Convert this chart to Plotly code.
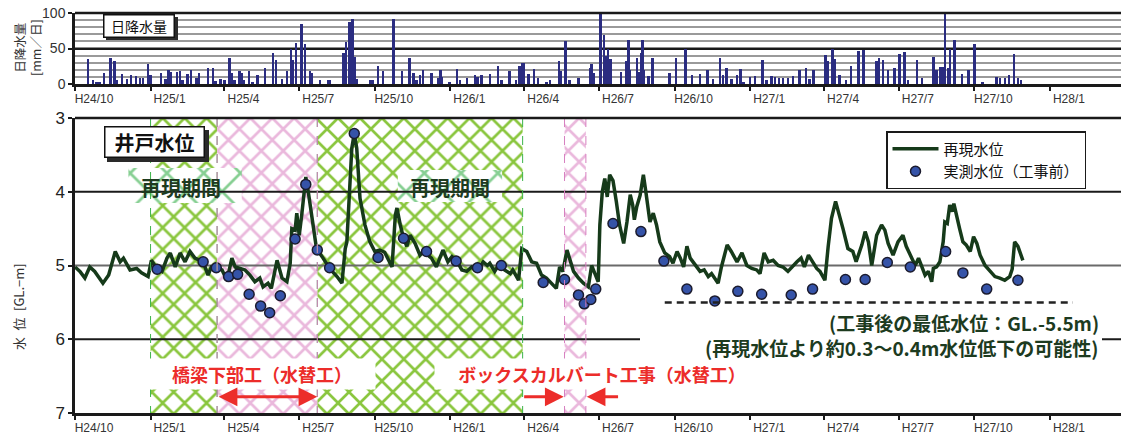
import pandas as pd
import plotly.graph_objects as go

# ---------------- data ----------------
# daily rainfall: day number counted from 2012-10-01, value in mm/day
RAIN_START = "2012-10-01"
rain_day = [16, 22, 26, 30, 35, 43, 48, 51, 57, 63, 68, 74, 79, 83, 89, 92, 105, 110, 114, 116,
            124, 128, 131, 137, 141, 148, 151, 162, 168, 171, 177, 182, 188, 191, 194, 200, 203, 206,
            212, 216, 222, 231, 241, 245, 252, 258, 263, 265, 269, 276, 280, 286, 288, 298, 308, 310,
            327, 330, 334, 338, 341, 343, 359, 362, 369, 375, 388, 398, 407, 412, 416, 420, 424, 434,
            442, 445, 447, 456, 465, 469, 477, 487, 490, 495, 505, 515, 519, 529, 537, 541, 544, 546,
            552, 559, 564, 574, 578, 589, 592, 597, 602, 613, 627, 629, 631, 640, 644, 646, 649, 652,
            665, 671, 674, 676, 684, 686, 689, 691, 693, 698, 703, 724, 732, 743, 751, 761, 770, 777,
            785, 789, 793, 799, 806, 810, 814, 822, 828, 837, 842, 848, 852, 857, 862, 868, 874, 882,
            890, 894, 899, 914, 917, 922, 925, 931, 939, 945, 954, 960, 976, 979, 984, 990, 998, 1004,
            1010, 1014, 1025, 1031, 1045, 1049, 1053, 1056, 1059, 1063, 1065, 1071, 1080, 1088, 1095,
            1105, 1122, 1126, 1132, 1137, 1143, 1148, 1152]
rain_mm = [35, 6, 3, 3, 16, 36, 32, 6, 14, 7, 13, 11, 9, 8, 28, 13, 16, 7, 20, 17,
           17, 19, 6, 14, 20, 8, 16, 22, 22, 4, 7, 6, 36, 16, 5, 19, 16, 6,
           19, 3, 13, 22, 43, 34, 7, 19, 49, 34, 58, 84, 56, 19, 15, 6, 5, 6,
           44, 59, 88, 92, 38, 7, 5, 6, 26, 19, 91, 19, 37, 16, 6, 13, 20, 16,
           9, 20, 10, 3, 21, 6, 9, 13, 10, 13, 14, 26, 6, 19, 6, 26, 29, 30,
           14, 21, 8, 3, 6, 33, 19, 61, 6, 9, 22, 28, 15, 100, 69, 40, 50, 35,
           17, 32, 62, 20, 37, 17, 44, 62, 20, 11, 36, 16, 36, 49, 13, 14, 20, 7,
           36, 13, 22, 7, 13, 21, 3, 10, 11, 34, 6, 11, 10, 8, 8, 8, 11, 20,
           22, 7, 20, 41, 32, 50, 35, 13, 6, 26, 46, 48, 32, 36, 34, 20, 22, 42,
           45, 6, 34, 8, 38, 20, 24, 24, 100, 22, 49, 62, 14, 20, 57,
           3, 10, 9, 8, 13, 42, 8, 5]

# simulated groundwater level (GL.-m)
sim_date = ["2012-10-01", "2012-10-07", "2012-10-13", "2012-10-19", "2012-10-25", "2012-11-04",
            "2012-11-11", "2012-11-15", "2012-11-19", "2012-11-25", "2012-11-29", "2012-12-07",
            "2012-12-15", "2012-12-21", "2012-12-29", "2013-01-02", "2013-01-08", "2013-01-15",
            "2013-01-21", "2013-01-25", "2013-01-31", "2013-02-06", "2013-02-12", "2013-02-18",
            "2013-02-24", "2013-03-06", "2013-03-12", "2013-03-16", "2013-03-22", "2013-03-29",
            "2013-04-04", "2013-04-10", "2013-04-14", "2013-04-20", "2013-04-26", "2013-05-02",
            "2013-05-08", "2013-05-14", "2013-05-18", "2013-05-24", "2013-05-28", "2013-06-04",
            "2013-06-10", "2013-06-16", "2013-06-20", "2013-06-22", "2013-06-26", "2013-06-28",
            "2013-07-01", "2013-07-04", "2013-07-06", "2013-07-09", "2013-07-12", "2013-07-18",
            "2013-07-22", "2013-07-30", "2013-08-07", "2013-08-16", "2013-08-22", "2013-08-26",
            "2013-08-28", "2013-09-03", "2013-09-06", "2013-09-09", "2013-09-13", "2013-09-19",
            "2013-09-25", "2013-10-01", "2013-10-07", "2013-10-13", "2013-10-22", "2013-10-26",
            "2013-10-28", "2013-11-01", "2013-11-05", "2013-11-09", "2013-11-13", "2013-11-19",
            "2013-11-25", "2013-11-29", "2013-12-09", "2013-12-15", "2013-12-23", "2013-12-29",
            "2014-01-03", "2014-01-09", "2014-01-15", "2014-01-21", "2014-01-27", "2014-02-01",
            "2014-02-06", "2014-02-10", "2014-02-15", "2014-02-18", "2014-02-24", "2014-03-02",
            "2014-03-08", "2014-03-15", "2014-03-18", "2014-03-25", "2014-03-29", "2014-04-04",
            "2014-04-10", "2014-04-16", "2014-04-22", "2014-04-28", "2014-05-04", "2014-05-10",
            "2014-05-14", "2014-05-18", "2014-05-23", "2014-05-27", "2014-05-31", "2014-06-06",
            "2014-06-12", "2014-06-18", "2014-06-22", "2014-06-26", "2014-06-30", "2014-07-02",
            "2014-07-05", "2014-07-08", "2014-07-11", "2014-07-14", "2014-07-18", "2014-07-22",
            "2014-07-26", "2014-07-31", "2014-08-04", "2014-08-08", "2014-08-11", "2014-08-13",
            "2014-08-16", "2014-08-20", "2014-08-24", "2014-08-27", "2014-09-01", "2014-09-05",
            "2014-09-09", "2014-09-13", "2014-09-19", "2014-09-25", "2014-09-29", "2014-10-04",
            "2014-10-08", "2014-10-12", "2014-10-16", "2014-10-20", "2014-10-26", "2014-11-01",
            "2014-11-06", "2014-11-11", "2014-11-15", "2014-11-23", "2014-11-27", "2014-12-04",
            "2014-12-09", "2014-12-16", "2014-12-22", "2014-12-28", "2015-01-03", "2015-01-09",
            "2015-01-13", "2015-01-18", "2015-01-23", "2015-01-29", "2015-02-04", "2015-02-10",
            "2015-02-16", "2015-02-22", "2015-02-27", "2015-03-04", "2015-03-08", "2015-03-13",
            "2015-03-18", "2015-03-23", "2015-03-27", "2015-04-02", "2015-04-06", "2015-04-10",
            "2015-04-15", "2015-04-18", "2015-04-24", "2015-04-30", "2015-05-06", "2015-05-10",
            "2015-05-17", "2015-05-21", "2015-05-25", "2015-05-29", "2015-06-04", "2015-06-10",
            "2015-06-14", "2015-06-18", "2015-06-24", "2015-06-30", "2015-07-06", "2015-07-10",
            "2015-07-15", "2015-07-21", "2015-07-25", "2015-07-29", "2015-08-02", "2015-08-06",
            "2015-08-10", "2015-08-12", "2015-08-16", "2015-08-20", "2015-08-24", "2015-08-26",
            "2015-08-29", "2015-09-01", "2015-09-04", "2015-09-06", "2015-09-09", "2015-09-13",
            "2015-09-17", "2015-09-21", "2015-09-26", "2015-09-30", "2015-10-04", "2015-10-08",
            "2015-10-14", "2015-10-20", "2015-10-26", "2015-11-01", "2015-11-07", "2015-11-13",
            "2015-11-16", "2015-11-19", "2015-11-23", "2015-11-29"]
sim_level = [5.02, 5.08, 5.17, 5.02, 5.08, 5.24,
             5.13, 4.97, 4.81, 4.95, 4.90, 5.06,
             5.04, 5.10, 5.15, 4.93, 5.03, 5.08,
             4.90, 4.83, 5.02, 4.83, 4.95, 4.81,
             4.90, 4.95, 5.13, 5.02, 5.03, 5.06,
             5.20, 4.90, 5.02, 5.04, 5.06, 5.13,
             5.22, 5.17, 5.29, 5.24, 5.31, 4.93,
             5.17, 5.22, 4.97, 4.50, 4.52, 4.29,
             4.59, 4.32, 4.09, 3.80, 4.00, 4.45,
             4.77, 4.90, 5.04, 5.15, 5.24, 4.77,
             4.68, 3.41, 3.21, 3.41, 4.09, 4.45,
             4.68, 4.81, 4.79, 4.82, 5.02, 4.32,
             4.22, 4.45, 4.63, 4.74, 4.59, 4.70,
             4.86, 4.81, 4.90, 5.02, 4.79, 4.95,
             4.88, 4.94, 5.06, 5.08, 5.02, 5.06,
             5.02, 4.95, 5.00, 4.97, 5.08, 4.97,
             5.06, 5.11, 5.06, 5.20, 4.77, 4.81,
             4.95, 4.97, 5.13, 5.17, 5.24, 5.31,
             5.02, 5.08, 4.79, 4.95, 5.08, 5.17,
             5.24, 5.29, 5.00, 5.11, 5.22, 4.45,
             4.00, 3.82, 4.07, 3.77, 3.85, 4.13,
             4.45, 4.70, 4.41, 4.04, 4.18, 4.38,
             4.20, 4.05, 3.77, 4.00, 4.41, 4.29,
             4.45, 4.68, 4.83, 4.88, 4.97, 4.81,
             4.90, 5.02, 4.74, 4.90, 5.00, 5.08,
             5.06, 5.15, 5.11, 5.24, 5.02, 4.72,
             4.81, 4.95, 4.83, 5.00, 5.04, 5.06,
             5.11, 4.83, 4.95, 4.93, 5.00, 5.02,
             5.08, 5.00, 4.95, 4.90, 5.02, 4.86,
             4.95, 5.04, 5.08, 5.20, 4.74, 4.36,
             4.13, 4.27, 4.50, 4.77, 4.81, 4.95,
             4.72, 4.54, 4.68, 5.00, 4.59, 4.45,
             4.52, 4.70, 4.86, 4.68, 4.59, 4.74,
             4.86, 5.00, 4.90, 5.02, 5.13, 5.08,
             5.22, 5.04, 5.02, 4.95, 4.68, 4.41,
             4.43, 4.18, 4.27, 4.16, 4.32, 4.50,
             4.68, 4.72, 4.81, 4.61, 4.70, 4.86,
             5.00, 5.08, 5.15, 5.17, 5.20, 5.15,
             5.05, 4.68, 4.74, 4.93]

# measured groundwater level before construction (GL.-m)
obs_date = ["2013-01-09", "2013-03-06", "2013-03-22", "2013-04-06", "2013-04-17", "2013-05-01",
            "2013-05-15", "2013-05-26", "2013-06-08", "2013-06-26", "2013-07-09", "2013-07-23",
            "2013-08-07", "2013-09-06", "2013-10-05", "2013-11-05", "2013-12-03", "2014-01-08",
            "2014-02-03", "2014-03-04", "2014-04-24", "2014-05-20", "2014-06-06", "2014-06-13",
            "2014-06-21", "2014-06-27", "2014-07-18", "2014-08-21", "2014-09-18", "2014-10-16",
            "2014-11-19", "2014-12-17", "2015-01-15", "2015-02-20", "2015-03-18", "2015-04-27",
            "2015-05-21", "2015-06-17", "2015-07-15", "2015-08-27", "2015-09-17", "2015-10-16",
            "2015-11-23"]
obs_level = [5.05, 4.95, 5.03, 5.15, 5.12, 5.39,
             5.55, 5.64, 5.41, 4.64, 3.90, 4.79,
             5.03, 3.21, 4.89, 4.63, 4.81, 4.94,
             5.03, 5.00, 5.23, 5.19, 5.40, 5.52,
             5.46, 5.32, 4.43, 4.54, 4.94, 5.32,
             5.48, 5.35, 5.39, 5.40, 5.32, 5.19,
             5.19, 4.96, 5.02, 4.81, 5.10, 5.32,
             5.20]

# periods
repro_periods = [("2013-01-01", "2013-03-23"), ("2013-07-23", "2014-03-30")]
works_periods = [("2013-03-23", "2013-07-23"), ("2014-05-20", "2014-06-15")]
post_min_level = 5.5
post_min_span = ("2014-09-19", "2016-01-29")

tick_dates = ["2012-10-01", "2013-01-01", "2013-04-01", "2013-07-01", "2013-10-01", "2014-01-01",
              "2014-04-01", "2014-07-01", "2014-10-01", "2015-01-01", "2015-04-01", "2015-07-01",
              "2015-10-01", "2016-01-01"]
tick_text = ["H24/10", "H25/1", "H25/4", "H25/7", "H25/10", "H26/1", "H26/4", "H26/7",
             "H26/10", "H27/1", "H27/4", "H27/7", "H27/10", "H28/1"]

# ---------------- layout helpers ----------------
W, H = 1121, 437
ML, MR, MT, MB = 75, 0, 13, 24


def px(x):
    return (x - ML) / (W - ML - MR)


def py(y):
    return (H - MB - y) / (H - MT - MB)


X_RANGE = ["2012-10-01", "2016-03-27 12:00"]
JP = "Noto Sans CJK JP"
LAT = "Liberation Sans, Arial"
GREEN_H = "#8ac63e"
PINK_H = "#eab8dc"
LINE_C = "#163a1a"
NOTE_C = "#1d3b1f"
RED = "#ec2d2a"

fig = go.Figure()


def hatch(x0, x1, y0, y1, color, size, solidity, bg="rgba(0,0,0,0)"):
    fig.add_trace(go.Scatter(
        x=[x0, x1, x1, x0, x0], y=[y0, y0, y1, y1, y0],
        mode="lines", line=dict(width=0), fill="toself",
        fillcolor=bg,
        fillpattern=dict(shape="x", fgcolor=color, bgcolor=bg, size=size, solidity=solidity,
                         fgopacity=1),
        xaxis="x2", yaxis="y2", showlegend=False, hoverinfo="skip"))


for a, b in repro_periods:
    hatch(a, b, 3, 7, GREEN_H, 15.5, 0.32)
for a, b in works_periods:
    hatch(a, b, 3, 7, PINK_H, 15.5, 0.32)

# label backgrounds for the reproduction-period captions
hatch("2012-12-05", "2013-04-22", 3.678, 4.153, "#86cf92", 26, 0.2, bg="white")
hatch("2013-10-29", "2014-03-05", 3.705, 4.139, "#86cf92", 26, 0.2, bg="white")

# gridlines of the water-level panel
for v, c in [(4, "#1a1a1a"), (5, "#6a6a6a"), (6, "#1a1a1a")]:
    fig.add_trace(go.Scatter(x=X_RANGE, y=[v, v], mode="lines", line=dict(color=c, width=2),
                             xaxis="x2", yaxis="y2", showlegend=False, hoverinfo="skip"))

# rainfall bars
rain_x = pd.Timestamp(RAIN_START) + pd.to_timedelta(rain_day, unit="D")
fig.add_trace(go.Bar(
    x=rain_x, y=rain_mm, width=3 * 86400000, marker=dict(color="#2a2c80", line=dict(width=0)),
    xaxis="x", yaxis="y", showlegend=False, hoverinfo="skip"))

# simulated and measured water level
fig.add_trace(go.Scatter(
    x=sim_date, y=sim_level, mode="lines", name="再現水位",
    line=dict(color=LINE_C, width=3.5), xaxis="x2", yaxis="y2",
    legendgroup="a"))
fig.add_trace(go.Scatter(
    x=obs_date, y=obs_level, mode="markers", name="実測水位（工事前）",
    marker=dict(size=10, color="#3553a8", line=dict(color="#1b1b2e", width=1.5)),
    xaxis="x2", yaxis="y2", legendgroup="b"))

shapes = []
# 50 mm line of the rainfall panel
shapes.append(dict(type="line", xref="x domain", yref="y", x0=0, x1=1, y0=50, y1=50,
                   line=dict(color="#1a1a1a", width=2), layer="below"))
# period borders
for a, b in repro_periods:
    for d in (a, b):
        shapes.append(dict(type="line", xref="x2", yref="y2", x0=d, x1=d, y0=3, y1=7,
                           line=dict(color="#3cb44a", width=1, dash="dash")))
for a, b in works_periods:
    for d in (a, b):
        shapes.append(dict(type="line", xref="x2", yref="y2", x0=d, x1=d, y0=3, y1=7,
                           line=dict(color="#d77fc0", width=1, dash="dash")))
# white panel behind the note
shapes.append(dict(type="rect", xref="paper", yref="paper", x0=px(640), x1=px(1102),
                   y0=py(362), y1=py(309), fillcolor="white", line=dict(width=0), layer="above"))
# post-construction minimum level
shapes.append(dict(type="line", xref="x2", yref="y2", x0=post_min_span[0], x1=post_min_span[1],
                   y0=post_min_level, y1=post_min_level,
                   line=dict(color="#222222", width=2.5, dash="7px,5px"), layer="above"))
# box shadows
shapes.append(dict(type="rect", xref="paper", yref="paper", x0=px(106), x1=px(178),
                   y0=py(40), y1=py(17), fillcolor="#2a2a2a", line=dict(width=0), layer="above"))
shapes.append(dict(type="rect", xref="paper", yref="paper", x0=px(107), x1=px(209),
                   y0=py(162), y1=py(130), fillcolor="#2a2a2a", line=dict(width=0), layer="above"))
# top border lines of both panels
shapes.append(dict(type="line", xref="paper", yref="paper", x0=0, x1=1, y0=py(13), y1=py(13),
                   line=dict(color="#1a1a1a", width=2.5)))
shapes.append(dict(type="line", xref="paper", yref="paper", x0=0, x1=1, y0=py(118), y1=py(118),
                   line=dict(color="#1a1a1a", width=2.5)))

C = dict(xanchor="center", yanchor="middle", showarrow=False)
annotations = []
# boxed titles
annotations.append(dict(xref="paper", yref="paper", x=px(139), y=py(25.5), text="日降水量",
                        font=dict(family=JP, size=14, color="#111"),
                        bgcolor="white", bordercolor="#111", borderwidth=1.5, borderpad=0,
                        width=69, height=21, **C))
annotations.append(dict(xref="paper", yref="paper", x=px(154), y=py(142), text="<b>井戸水位</b>",
                        font=dict(family=JP, size=20, color="#111"),
                        bgcolor="white", bordercolor="#111", borderwidth=1.5, borderpad=0,
                        width=98, height=29, **C))
# period captions
for xc in (181, 450):
    annotations.append(dict(xref="paper", yref="paper", x=px(xc), y=py(187),
                            text="<b>再現期間</b>", font=dict(family=JP, size=20, color=NOTE_C), **C))
# construction captions
annotations.append(dict(xref="paper", yref="paper", x=px(262), y=py(374),
                        text="<b>橋梁下部工（水替工）</b>",
                        font=dict(family=JP, size=18, color=RED),
                        bgcolor="white", width=226, height=30, borderpad=0, **C))
annotations.append(dict(xref="paper", yref="paper", x=px(602), y=py(374),
                        text="<b>ボックスカルバート工事（水替工）</b>",
                        font=dict(family=JP, size=18, color=RED),
                        bgcolor="white", width=334, height=30, borderpad=0, **C))
# arrows
arrow_y = 6.78
annotations.append(dict(xref="x2", yref="y2", axref="x2", ayref="y2",
                        x="2013-07-23", y=arrow_y, ax="2013-03-23", ay=arrow_y, text="",
                        showarrow=True, arrowhead=2, arrowside="end+start", arrowsize=1.25,
                        arrowwidth=3, arrowcolor=RED))
annotations.append(dict(xref="x2", yref="y2", axref="x2", ayref="y2",
                        x="2014-05-19", y=arrow_y, ax="2014-03-30", ay=arrow_y, text="",
                        showarrow=True, arrowhead=2, arrowsize=1.25,
                        arrowwidth=3, arrowcolor=RED))
annotations.append(dict(xref="x2", yref="y2", axref="x2", ayref="y2",
                        x="2014-06-16", y=arrow_y, ax="2014-07-26", ay=arrow_y, text="",
                        showarrow=True, arrowhead=2, arrowsize=1.25,
                        arrowwidth=3, arrowcolor=RED))
# note on the post-construction level
annotations.append(dict(xref="paper", yref="paper", x=px(1101), y=py(322), xanchor="right",
                        yanchor="middle", showarrow=False,
                        text="<b>(工事後の最低水位：GL.-5.5m)</b>",
                        font=dict(family=JP, size=19, color=NOTE_C)))
annotations.append(dict(xref="paper", yref="paper", x=px(1101), y=py(347), xanchor="right",
                        yanchor="middle", showarrow=False,
                        text="<b>(再現水位より約0.3～0.4m水位低下の可能性)</b>",
                        font=dict(family=JP, size=19, color=NOTE_C)))
# axis titles
annotations.append(dict(xref="paper", yref="paper", x=px(27), y=py(48), textangle=-90,
                        text="日降水量<br>[mm／日]",
                        font=dict(family=JP, size=12.5, color="#333"), **C))
annotations.append(dict(xref="paper", yref="paper", x=px(18), y=py(307), textangle=-90,
                        text="水\u2002位\u2002[GL.−m]",
                        font=dict(family=JP, size=13, color="#333"), **C))

axis_common = dict(showline=True, linecolor="#1a1a1a", linewidth=2.5, ticks="outside",
                   tickcolor="#1a1a1a", tickwidth=2, ticklen=4, zeroline=False)

fig.update_layout(
    width=W, height=H, margin=dict(l=ML, r=MR, t=MT, b=MB, autoexpand=False),
    paper_bgcolor="white", plot_bgcolor="white",
    bargap=0,
    xaxis=dict(domain=[0, 1], range=X_RANGE, type="date", anchor="y", tickvals=tick_dates,
               ticktext=tick_text, ticklabelshift=19, ticklabelstandoff=-2, showgrid=False,
               tickfont=dict(family=LAT, size=12, color="#333"), **axis_common),
    yaxis=dict(domain=[py(84), py(13)], range=[0, 100], anchor="x", tickvals=[0, 50, 100],
               showgrid=True, gridcolor="#1a1a1a", gridwidth=2,
               minor=dict(dtick=10, tick0=0, showgrid=True, gridcolor="#9a9a9a", gridwidth=1.5,
                          ticks=""),
               tickfont=dict(family=LAT, size=14, color="#333"), **axis_common),
    xaxis2=dict(domain=[0, 1], range=X_RANGE, type="date", anchor="y2", tickvals=tick_dates,
                ticktext=tick_text, ticklabelshift=19, ticklabelstandoff=-2, showgrid=False,
                tickfont=dict(family=LAT, size=12, color="#333"), **axis_common),
    yaxis2=dict(domain=[0, py(118)], range=[7, 3], anchor="x2", tickvals=[3, 4, 5, 6, 7],
                showgrid=False, tickfont=dict(family=LAT, size=17, color="#222"), **axis_common),
    shapes=shapes, annotations=annotations,
    legend=dict(x=px(886), y=py(131), xanchor="left", yanchor="top", bgcolor="white",
                bordercolor="#1a1a1a", borderwidth=1.5, font=dict(family=JP, size=15, color="#111"),
                tracegroupgap=0, traceorder="grouped", itemwidth=46),
    showlegend=True,
)

fig.write_html("out.html")
